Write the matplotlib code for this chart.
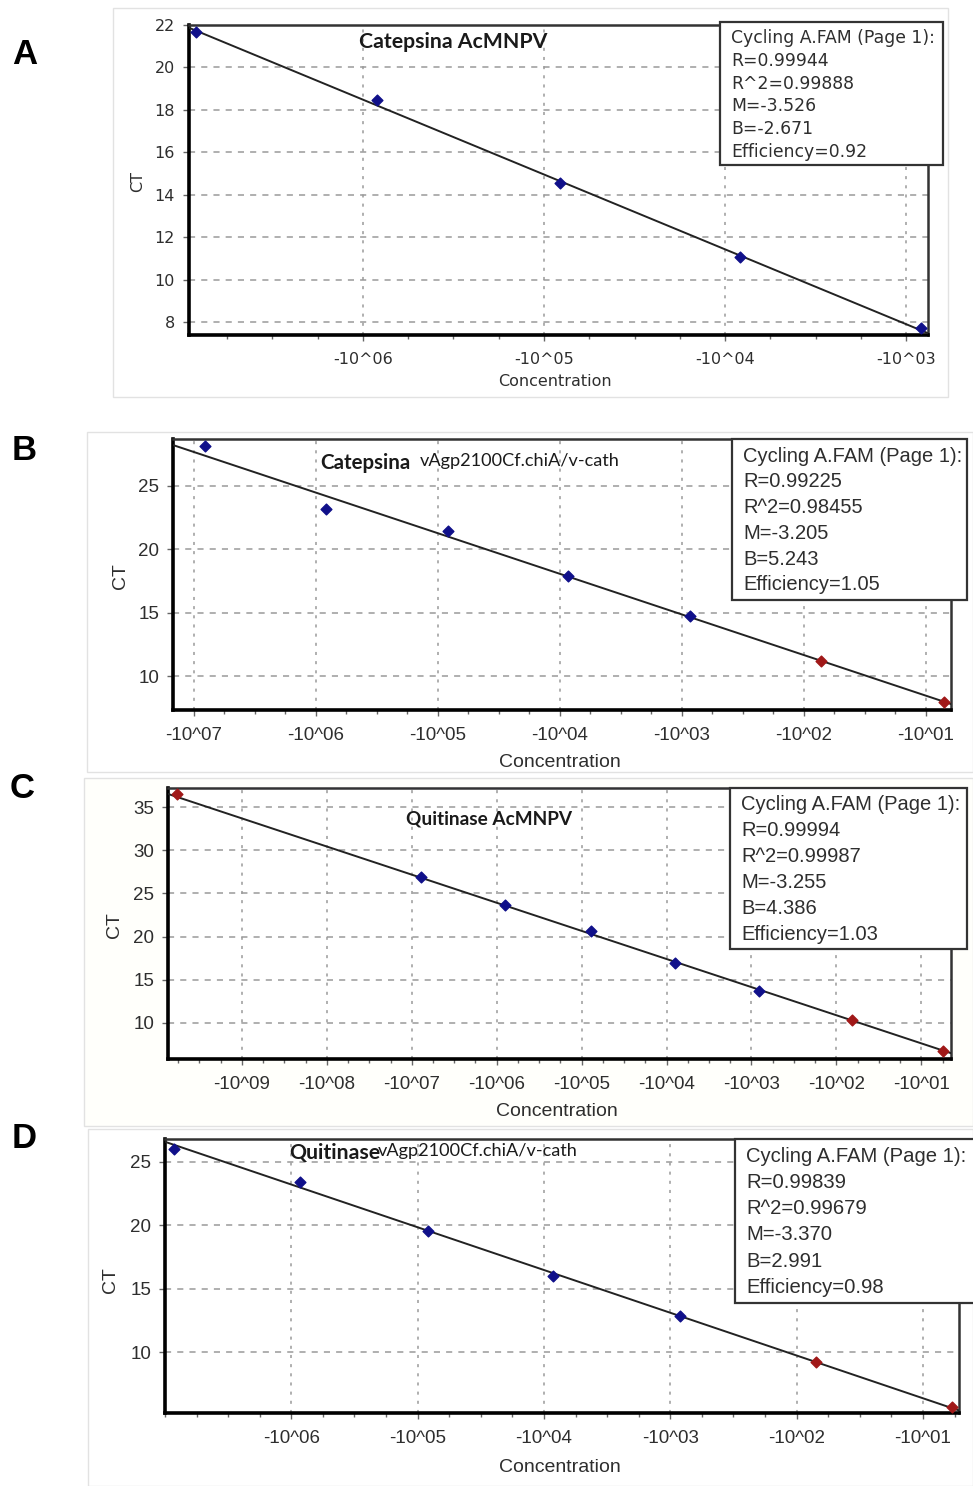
import matplotlib
matplotlib.use("Agg")
import matplotlib.pyplot as plt
import numpy as np
from matplotlib.patches import Rectangle

# ---------------- data ----------------
# x = log10(concentration); CT values
a_x = [-6.92, -5.92, -4.91, -3.92, -2.92]
a_ct = [21.65, 18.46, 14.55, 11.06, 7.75]
a_red = [False, False, False, False, False]
a_ticks = [-6, -5, -4, -3]
a_ticklabels = ["-10^06", "-10^05", "-10^04", "-10^03"]
a_yticks = [8, 10, 12, 14, 16, 18, 20, 22]
a_stats = ["Cycling A.FAM (Page 1):", "R=0.99944", "R^2=0.99888", "M=-3.526", "B=-2.671", "Efficiency=0.92"]
a_M, a_B = -3.526, -2.671

b_x = [-6.91, -5.92, -4.92, -3.93, -2.93, -1.86, -0.85]
b_ct = [28.16, 23.18, 21.45, 17.90, 14.74, 11.18, 7.95]
b_red = [False, False, False, False, False, True, True]
b_ticks = [-7, -6, -5, -4, -3, -2, -1]
b_ticklabels = ["-10^07", "-10^06", "-10^05", "-10^04", "-10^03", "-10^02", "-10^01"]
b_yticks = [10, 15, 20, 25]
b_stats = ["Cycling A.FAM (Page 1):", "R=0.99225", "R^2=0.98455", "M=-3.205", "B=5.243", "Efficiency=1.05"]
b_M, b_B = -3.205, 5.243

c_x = [-9.76, -6.89, -5.90, -4.89, -3.90, -2.91, -1.82, -0.75]
c_ct = [36.50, 26.85, 23.70, 20.60, 16.97, 13.70, 10.35, 6.76]
c_red = [True, False, False, False, False, False, True, True]
c_ticks = [-9, -8, -7, -6, -5, -4, -3, -2, -1]
c_ticklabels = ["-10^09", "-10^08", "-10^07", "-10^06", "-10^05", "-10^04", "-10^03", "-10^02", "-10^01"]
c_yticks = [10, 15, 20, 25, 30, 35]
c_stats = ["Cycling A.FAM (Page 1):", "R=0.99994", "R^2=0.99987", "M=-3.255", "B=4.386", "Efficiency=1.03"]
c_M, c_B = -3.255, 4.386

d_x = [-6.93, -5.93, -4.92, -3.93, -2.92, -1.85, -0.77]
d_ct = [26.00, 23.40, 19.53, 16.03, 12.84, 9.21, 5.66]
d_red = [False, False, False, False, False, True, True]
d_ticks = [-6, -5, -4, -3, -2, -1]
d_ticklabels = ["-10^06", "-10^05", "-10^04", "-10^03", "-10^02", "-10^01"]
d_yticks = [10, 15, 20, 25]
d_stats = ["Cycling A.FAM (Page 1):", "R=0.99839", "R^2=0.99679", "M=-3.370", "B=2.991", "Efficiency=0.98"]
d_M, d_B = -3.370, 2.991

panel_letters = ["A", "B", "C", "D"]

# ---------------- layout ----------------
W, H = 973, 1486
fig = plt.figure(figsize=(W / 100, H / 100), dpi=100)
fig.patch.set_facecolor("white")

BLUE = "#10108a"
RED = "#a01818"
GRID = "#9a9a9a"
TXT = "#2e2e2e"


def fx(x):
    return x / W


def fy(y):
    return 1 - y / H


def frame(l, t, r, b, fc="white"):
    fig.patches.append(Rectangle((fx(l), fy(b)), fx(r - l), (b - t) / H,
                                 transform=fig.transFigure, fc=fc, ec="#e2e2e2",
                                 lw=1.0, zorder=-5))


def panel(rect, xlim, ylim, xs, cts, reds, ticks, ticklabels, yticks, M, B,
          tick_font, tick_size, ylab_xy, xlab_xy, lab_size):
    l, t, r, b = rect
    ax = fig.add_axes([fx(l), fy(b), fx(r - l), (b - t) / H])
    ax.set_xticks(ticks)
    ax.set_xticklabels(ticklabels)
    minor = np.arange(np.ceil(xlim[0] * 4) / 4, xlim[1], 0.25)
    ax.set_xticks(minor, minor=True)
    ax.set_yticks(yticks)
    ax.set_xlim(*xlim)
    ax.set_ylim(*ylim)
    ax.tick_params(axis="both", which="major", direction="out", length=4, width=1,
                   color="#666666", labelcolor=TXT, labelsize=tick_size, pad=6)
    ax.tick_params(axis="x", which="minor", direction="out", length=3, width=1, color="#666666")
    ax.tick_params(axis="x", which="major", pad=8)
    for lab in ax.get_xticklabels() + ax.get_yticklabels():
        lab.set_family(tick_font)
    ax.grid(True, which="major", axis="y", color=GRID, ls=(0, (4, 4)), lw=1.1)
    ax.grid(True, which="major", axis="x", color=GRID, ls=(0, (2, 4)), lw=1.1)
    for s in ["left", "bottom"]:
        ax.spines[s].set_linewidth(2.6)
        ax.spines[s].set_color("black")
    for s in ["top", "right"]:
        ax.spines[s].set_linewidth(1.8)
        ax.spines[s].set_color("#333333")
    xl = np.array(xlim)
    ax.plot(xl, M * xl + B, color="#222222", lw=1.4, zorder=3)
    xs = np.array(xs)
    cts = np.array(cts)
    reds = np.array(reds)
    ax.scatter(xs[~reds], cts[~reds], marker="D", s=30, color=BLUE, zorder=4, clip_on=False)
    ax.scatter(xs[reds], cts[reds], marker="D", s=30, color=RED, zorder=4, clip_on=False)
    fig.text(fx(ylab_xy[0]), fy(ylab_xy[1]), "CT", rotation=90, ha="center", va="center",
             family=tick_font, size=lab_size, color=TXT)
    fig.text(fx(xlab_xy[0]), fy(xlab_xy[1]), "Concentration", ha="center", va="center",
             family=tick_font, size=lab_size, color=TXT)
    return ax


def stats_box(l, t, r, b, lines, y0, dy, x0, font, size):
    fig.patches.append(Rectangle((fx(l), fy(b)), fx(r - l), (b - t) / H,
                                 transform=fig.transFigure, fc="white", ec="#333333",
                                 lw=1.6, zorder=10))
    for i, s in enumerate(lines):
        fig.text(fx(x0), fy(y0 + i * dy), s, ha="left", va="center", family=font,
                 size=size, color=TXT, zorder=11)


# outer screenshot frames
frame(113, 8, 948, 397)
frame(87, 432, 973, 772)
frame(84, 778, 973, 1126, fc="#fffffb")
frame(88, 1129, 973, 1486)

# Panel A
panel((189, 25, 928, 335), (-6.96, -2.88), (7.4, 22.0), a_x, a_ct, a_red, a_ticks,
      a_ticklabels, a_yticks, a_M, a_B, "DejaVu Sans", 11.5, (138, 182), (555, 381), 11.5)
stats_box(720, 22, 943, 165, a_stats, 38, 22.8, 731, "DejaVu Sans", 12.4)
fig.text(fx(453), fy(42), "Catepsina AcMNPV", ha="center", va="center",
         family="Lato", weight="bold", size=15.3, color="#1a1a1a", zorder=12)

# Panel B
panel((173, 439, 951, 710), (-7.17, -0.795), (7.32, 28.7), b_x, b_ct, b_red, b_ticks,
      b_ticklabels, b_yticks, b_M, b_B, "Liberation Sans", 13.5, (120, 576), (560, 762), 14)
stats_box(732, 439, 967, 600, b_stats, 456, 25.8, 743, "Liberation Sans", 14.5)
fig.text(fx(320), fy(463), "Catepsina", ha="left", va="center",
         family="Lato", weight="bold", size=14.8, color="#1a1a1a", zorder=12)
fig.text(fx(420), fy(461), "vAgp2100Cf.chiA/v-cath", ha="left", va="center",
         family="Lato", size=13.1, color="#1a1a1a", zorder=12)

# Panel C
panel((168, 788, 951, 1059), (-9.87, -0.65), (5.83, 37.2), c_x, c_ct, c_red, c_ticks,
      c_ticklabels, c_yticks, c_M, c_B, "Liberation Sans", 13.5, (115, 925), (557, 1111), 14)
stats_box(730, 788, 967, 949, c_stats, 805, 25.8, 741, "Liberation Sans", 14.5)
fig.text(fx(489), fy(819), "Quitinase AcMNPV", ha="center", va="center",
         family="Lato", weight="bold", size=13.7, color="#1a1a1a", zorder=12)

# Panel D
panel((165, 1139, 959, 1413), (-7.0, -0.715), (5.2, 26.8), d_x, d_ct, d_red, d_ticks,
      d_ticklabels, d_yticks, d_M, d_B, "Liberation Sans", 13.5, (110, 1280), (560, 1467), 14)
stats_box(735, 1139, 975, 1303, d_stats, 1156, 26.3, 746, "Liberation Sans", 14.6)
fig.text(fx(289), fy(1153), "Quitinase", ha="left", va="center",
         family="Lato", weight="bold", size=15.3, color="#1a1a1a", zorder=12)
fig.text(fx(378), fy(1151), "vAgp2100Cf.chiA/v-cath", ha="left", va="center",
         family="Lato", size=13.1, color="#1a1a1a", zorder=12)

# panel letters
for letter, (lx, ly) in zip(panel_letters, [(25, 55), (12, 450), (10, 788), (12, 1139)]):
    fig.text(fx(lx), fy(ly), letter, ha="center" if letter == "A" else "left", va="center",
             family="Liberation Sans", weight="bold", size=25, color="black")

fig.savefig("out.png", dpi=100)
